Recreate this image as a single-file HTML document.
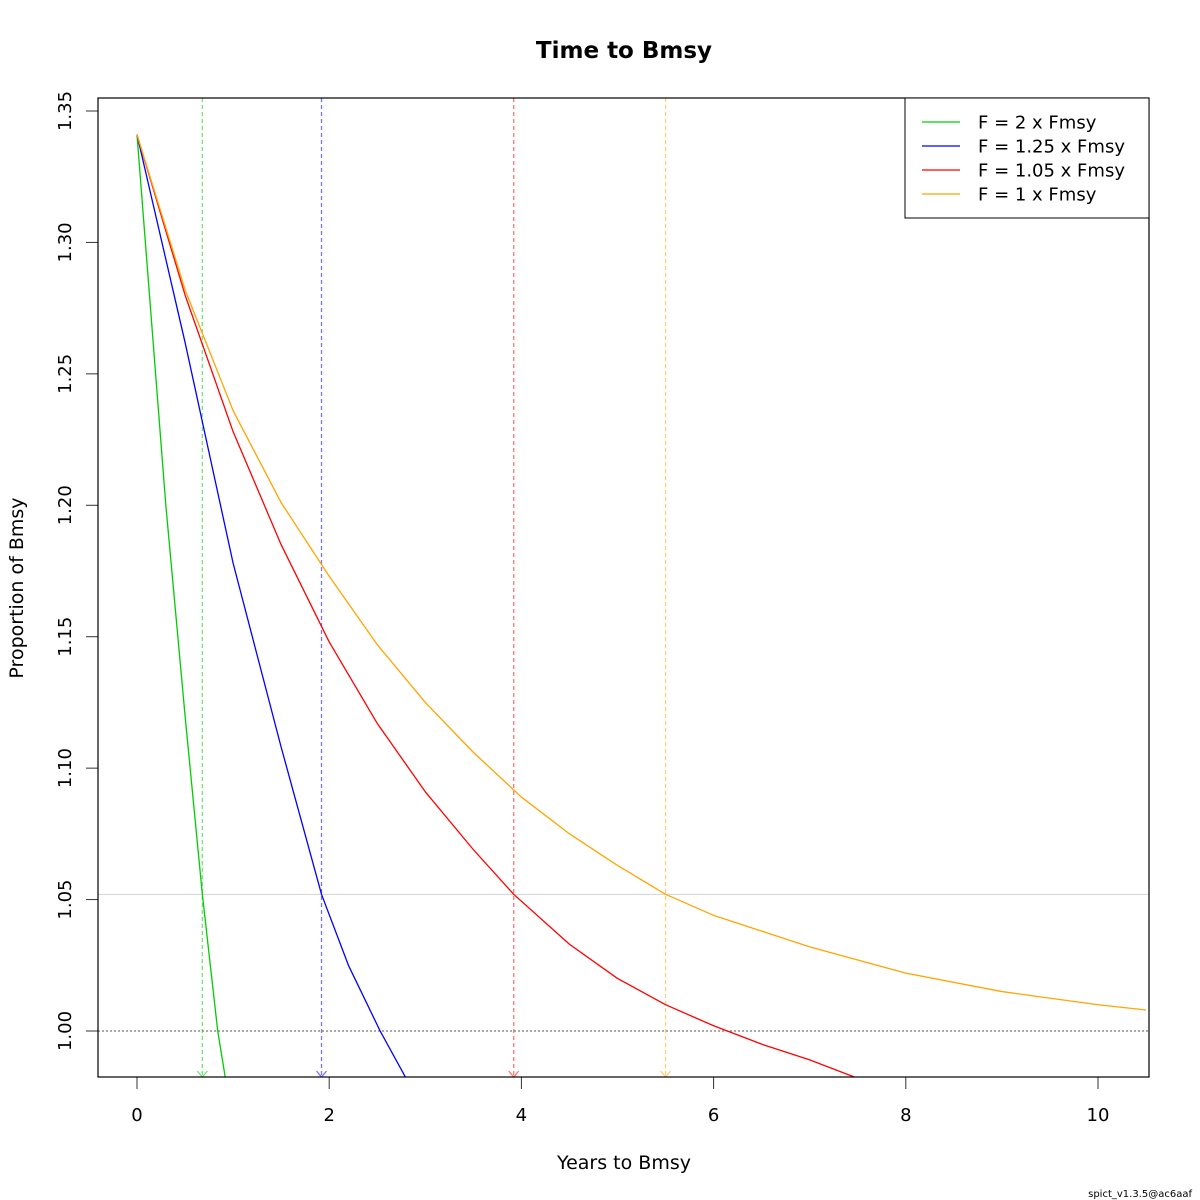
<!DOCTYPE html>
<html><head><meta charset="utf-8"><style>
html,body{margin:0;padding:0;background:#fff}
svg{display:block;font-family:"DejaVu Sans","Liberation Sans",sans-serif}
</style></head><body>
<svg id="chart" width="1200" height="1200" viewBox="0 0 1200 1200">
<defs><clipPath id="clip"><rect x="98" y="98" width="1051" height="979"/></clipPath></defs>
<text x="624" y="58" text-anchor="middle" font-size="23" font-weight="bold">Time to Bmsy</text>
<text x="624" y="1169" text-anchor="middle" font-size="19">Years to Bmsy</text>
<text transform="translate(23,588) rotate(-90)" text-anchor="middle" font-size="19">Proportion of Bmsy</text>
<text x="1192" y="1197" text-anchor="end" font-size="10">spict_v1.3.5@ac6aaf</text>
<g id="plot" clip-path="url(#clip)"></g>
<g id="axes"></g>
<rect x="98" y="98" width="1051" height="979" fill="none" stroke="#000" stroke-width="1.2"/>
<g>
<rect x="905" y="98" width="244" height="120" fill="#fff" stroke="#000" stroke-width="1"/>
<g id="legend"></g>
</g>
</svg>
<script>
const NS="http://www.w3.org/2000/svg";
const xTicks=[0,2,4,6,8,10];
const yTicks=[1.00,1.05,1.10,1.15,1.20,1.25,1.30,1.35];
const seriesLabels=["F = 2 x Fmsy","F = 1.25 x Fmsy","F = 1.05 x Fmsy","F = 1 x Fmsy"];
const seriesColors=["#00cd00","#0000ff","#ff0000","#ffa500"];
const greenX=[0,0.3,0.5,0.68,0.84,0.92];
const greenY=[1.341,1.200,1.120,1.052,1.000,0.982];
const blueX=[0,0.5,1,1.5,1.92,2.2,2.53,2.8];
const blueY=[1.341,1.262,1.178,1.108,1.052,1.025,1.000,0.982];
const redX=[0,0.5,1,1.5,2,2.5,3,3.5,3.92,4.5,5,5.5,6,6.5,7,7.5];
const redY=[1.341,1.280,1.228,1.185,1.148,1.117,1.091,1.069,1.052,1.033,1.020,1.010,1.002,0.995,0.989,0.982];
const orangeX=[0,0.5,1,1.5,2,2.5,3,3.5,4,4.5,5,5.5,6,6.5,7,8,9,10,10.5];
const orangeY=[1.341,1.282,1.236,1.201,1.173,1.147,1.125,1.106,1.089,1.075,1.063,1.052,1.044,1.038,1.032,1.022,1.015,1.010,1.008];
const targetX=[0.68,1.92,3.92,5.5];
const bmsyLevel=1.052;
const refLevel=1.0;
const X=v=>137+v*96.1;
const Y=v=>1031-(v-1)*2628.6;
function mk(tag,attrs,parent){const e=document.createElementNS(NS,tag);for(const k in attrs)e.setAttribute(k,attrs[k]);parent.appendChild(e);return e;}
const plot=document.getElementById('plot'),axes=document.getElementById('axes'),leg=document.getElementById('legend');
let l=mk('line',{x1:98,x2:1149,y1:Y(bmsyLevel),y2:Y(bmsyLevel),stroke:'#d3d3d3','stroke-width':1},plot);


l=mk('line',{x1:98,x2:1149,y1:Y(refLevel),y2:Y(refLevel),stroke:'#777','stroke-width':1.2,'stroke-dasharray':'2,2'},plot);


const allX=[greenX,blueX,redX,orangeX],allY=[greenY,blueY,redY,orangeY];
const names=['green','blue','red','orange'];
targetX.forEach((t,i)=>{
 const g=mk('g',{stroke:seriesColors[i],'stroke-opacity':0.55,fill:'none','stroke-width':1.3},plot);
 
 
 mk('line',{x1:X(t),x2:X(t),y1:98,y2:1077,'stroke-dasharray':'4,3'},g);
 mk('polyline',{points:`${X(t)-5},1071 ${X(t)},1077 ${X(t)+5},1071`},g);
});
allX.forEach((xs,i)=>{
 const p=mk('polyline',{points:xs.map((x,j)=>X(x)+','+Y(allY[i][j])).join(' '),fill:'none',stroke:seriesColors[i],'stroke-width':1.3,'stroke-linejoin':'round'},plot);
 
 
});
xTicks.forEach(t=>{
 const tk=mk('line',{x1:X(t),x2:X(t),y1:1077,y2:1089,stroke:'#333','stroke-width':1},axes);
 
 
 const tx=mk('text',{x:X(t),y:1121,'text-anchor':'middle','font-size':18},axes);tx.textContent=t;
 
 
});
yTicks.forEach(t=>{
 const y=Y(t);
 const tk=mk('line',{x1:86,x2:98,y1:y,y2:y,stroke:'#333','stroke-width':1},axes);
 
 
 const tx=mk('text',{transform:`translate(71,${y}) rotate(-90)`,'text-anchor':'middle','font-size':18},axes);tx.textContent=t.toFixed(2);
 
 
});
seriesLabels.forEach((s,i)=>{
 const y=122+i*24;
 const g=mk('g',{},leg);
 
 
 mk('line',{x1:922,x2:960,y1:y,y2:y,stroke:seriesColors[i],'stroke-width':1.3},g);
 const tx=mk('text',{x:978,y:y+6.5,'font-size':18},g);tx.textContent=s;
});
</script>
</body></html>
